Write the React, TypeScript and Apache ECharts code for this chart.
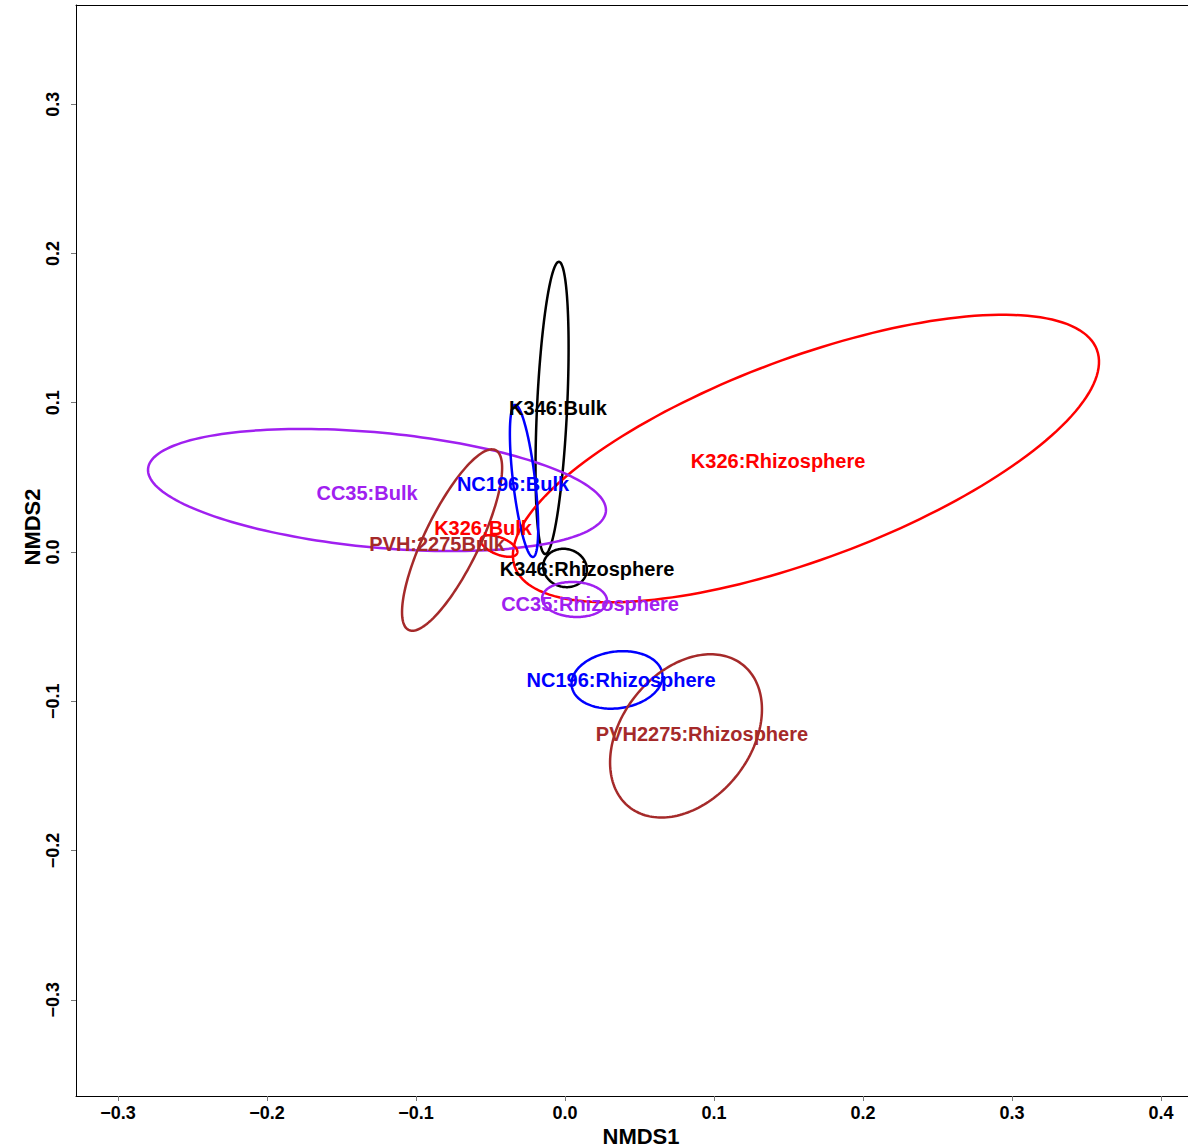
import React, { useEffect, useRef } from "react";
import * as echarts from "echarts";

// ---- data ----
const groupNames = [
  "K346:Bulk",
  "K326:Rhizosphere",
  "CC35:Bulk",
  "NC196:Bulk",
  "K326:Bulk",
  "PVH:2275Bulk",
  "K346:Rhizosphere",
  "CC35:Rhizosphere",
  "NC196:Rhizosphere",
  "PVH2275:Rhizosphere",
];
const groupColors = [
  "#000000",
  "#FF0000",
  "#A020F0",
  "#0000FF",
  "#FF0000",
  "#A52A2A",
  "#000000",
  "#A020F0",
  "#0000FF",
  "#A52A2A",
];
// ellipse centres, semi-axes (NMDS units) and rotation (degrees)
const ellipseCenterX = [-0.0087, 0.1617, -0.1262, -0.0275, -0.0443, -0.0758, 0.0, 0.0064, 0.0349, 0.0812];
const ellipseCenterY = [0.0965, 0.0626, 0.0415, 0.0476, 0.004, 0.008, -0.0107, -0.0318, -0.0857, -0.1232];
const ellipseSemiMajor = [0.098, 0.2084, 0.1543, 0.0513, 0.0131, 0.0669, 0.0148, 0.0218, 0.0307, 0.061];
const ellipseSemiMinor = [0.0101, 0.0673, 0.0385, 0.0074, 0.0057, 0.0185, 0.0127, 0.0117, 0.019, 0.0432];
const ellipseAngleDeg = [87.3, 20.45, -5.32, 96.75, -22, 64.15, -15, -3, 7.7, 51.1];
// label positions
const labelX = [-0.0047, 0.143, -0.1329, -0.0349, -0.055, -0.0859, 0.0148, 0.0168, 0.0376, 0.0919];
const labelY = [0.0965, 0.061, 0.0395, 0.0455, 0.0161, 0.0054, -0.0114, -0.0348, -0.0857, -0.1219];
// axes
const xTicks = [-0.3, -0.2, -0.1, 0.0, 0.1, 0.2, 0.3, 0.4];
const yTicks = [-0.3, -0.2, -0.1, 0.0, 0.1, 0.2, 0.3];
const xRange = [-0.3282, 0.4181];
const yRange = [-0.3644, 0.3664];
const xTitle = "NMDS1";
const yTitle = "NMDS2";

const FONT = '"Liberation Sans", Arial, Helvetica, sans-serif';
const fmt = (v: number) => {
  const r = Math.round(v * 10) / 10;
  return (r < 0 ? "\u2212" : "") + Math.abs(r).toFixed(1);
};

export default function App() {
  const ref = useRef<HTMLDivElement>(null);
  useEffect(() => {
    if (!ref.current) return;
    const chart = echarts.init(ref.current, undefined, { renderer: "svg" });
    const N = 180;
    const option: any = {
      animation: false,
      backgroundColor: "#ffffff",
      grid: {
        left: 76,
        top: 5,
        right: 0,
        bottom: 52,
        containLabel: false,
        outerBoundsMode: "none",
      },
      xAxis: [
        {
          type: "value",
          min: xRange[0],
          max: xRange[1],
          position: "bottom",
          splitLine: { show: false },
          axisLine: { show: true, onZero: false, lineStyle: { color: "#000", width: 1 } },
          axisTick: {
            show: true,
            customValues: xTicks,
            length: 5,
            lineStyle: { color: "#777", width: 1 },
          },
          axisLabel: {
            show: true,
            customValues: xTicks,
            formatter: (v: number) => fmt(v),
            color: "#000",
            fontFamily: FONT,
            fontWeight: "bold",
            fontSize: 18,
            margin: 8,
          },
        },
        {
          type: "value",
          min: xRange[0],
          max: xRange[1],
          position: "top",
          splitLine: { show: false },
          axisLine: { show: true, onZero: false, lineStyle: { color: "#000", width: 1 } },
          axisTick: { show: false },
          axisLabel: { show: false },
        },
      ],
      yAxis: {
        type: "value",
        min: yRange[0],
        max: yRange[1],
        splitLine: { show: false },
        axisLine: { show: true, onZero: false, lineStyle: { color: "#000", width: 1 } },
        axisTick: {
          show: true,
          customValues: yTicks,
          length: 5,
          lineStyle: { color: "#777", width: 1 },
        },
        axisLabel: {
          show: true,
          customValues: yTicks,
          formatter: (v: number) => fmt(v),
          rotate: 90,
          color: "#000",
          fontFamily: FONT,
          fontWeight: "bold",
          fontSize: 18,
          margin: 14,
        },
      },
      graphic: [
        {
          type: "text",
          x: 641,
          y: 1136,
          style: {
            text: xTitle,
            font: `bold 22px ${FONT}`,
            fill: "#000",
            textAlign: "center",
            textVerticalAlign: "middle",
            align: "center",
            verticalAlign: "middle",
          },
        },
        {
          type: "text",
          x: 32,
          y: 527,
          rotation: Math.PI / 2,
          style: {
            text: yTitle,
            font: `bold 22px ${FONT}`,
            fill: "#000",
            textAlign: "center",
            textVerticalAlign: "middle",
            align: "center",
            verticalAlign: "middle",
          },
        },
      ],
      series: [
        {
          type: "custom",
          name: "ellipses",
          xAxisIndex: 0,
          yAxisIndex: 0,
          encode: { x: 0, y: 1 },
          data: groupNames.map((_, i) => [
            ellipseCenterX[i],
            ellipseCenterY[i],
            ellipseSemiMajor[i],
            ellipseSemiMinor[i],
            ellipseAngleDeg[i],
            i,
          ]),
          renderItem: (params: any, api: any) => {
            const cx = api.value(0);
            const cy = api.value(1);
            const a = api.value(2);
            const b = api.value(3);
            const th = (api.value(4) * Math.PI) / 180;
            const idx = api.value(5);
            const pts: number[][] = [];
            for (let k = 0; k < N; k++) {
              const t = (2 * Math.PI * k) / N;
              const dx = a * Math.cos(t) * Math.cos(th) - b * Math.sin(t) * Math.sin(th);
              const dy = a * Math.cos(t) * Math.sin(th) + b * Math.sin(t) * Math.cos(th);
              pts.push(api.coord([cx + dx, cy + dy]));
            }
            return {
              type: "polygon",
              shape: { points: pts },
              style: { fill: "none", stroke: groupColors[idx], lineWidth: 2.5 },
            };
          },
          z: 2,
        },
        {
          type: "custom",
          name: "labels",
          xAxisIndex: 0,
          yAxisIndex: 0,
          encode: { x: 0, y: 1 },
          data: groupNames.map((_, i) => [labelX[i], labelY[i], i]),
          renderItem: (params: any, api: any) => {
            const p = api.coord([api.value(0), api.value(1)]);
            const idx = api.value(2);
            return {
              type: "text",
              x: p[0],
              y: p[1],
              style: {
                text: groupNames[idx],
                fill: groupColors[idx],
                font: `bold 20px ${FONT}`,
                textAlign: "center",
                textVerticalAlign: "middle",
                align: "center",
                verticalAlign: "middle",
              },
            };
          },
          z: 3,
        },
      ],
    };
    chart.setOption(option);
    return () => chart.dispose();
  }, []);
  return (
    <div
      ref={ref}
      style={{ position: "fixed", left: 0, top: 0, width: 1188, height: 1148, background: "#fff" }}
    />
  );
}
